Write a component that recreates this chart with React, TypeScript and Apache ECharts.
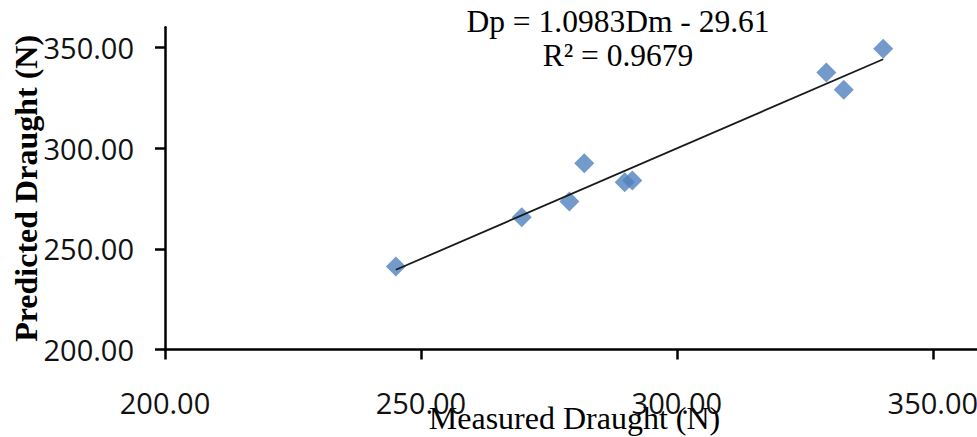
import React, { useEffect, useRef } from "react";
import * as echarts from "echarts";

// Measured (x) and predicted (y) draught values
const measured = [245.1, 269.7, 279.0, 281.9, 289.8, 291.3, 329.2, 332.6, 340.3];
const predicted = [241.2, 265.7, 273.5, 292.5, 283.1, 283.9, 337.6, 329.0, 349.4];

// Trend line: Dp = slope * Dm + intercept
const slope = 1.0983;
const intercept = -29.61;
const equationText = "Dp = 1.0983Dm - 29.61";
const r2Text = "R² = 0.9679";

const xTicks = [200, 250, 300, 350];
const yTicks = [200, 250, 300, 350];

export default function App() {
  const ref = useRef<HTMLDivElement>(null);

  useEffect(() => {
    if (!ref.current) return;
    const chart = echarts.init(ref.current, null, { renderer: "svg" });

    const points = measured.map((x, i) => [x, predicted[i]]);
    const xMin = Math.min(...measured);
    const xMax = Math.max(...measured);
    const trend = [
      [xMin, slope * xMin + intercept],
      [xMax, slope * xMax + intercept],
    ];

    const labelStyle = {
      fontFamily: "Open Sans",
      fontSize: 29,
      color: "#111",
      formatter: (v: number) => v.toFixed(2),
    };

    chart.setOption({
      animation: false,
      backgroundColor: "#fff",
      grid: {
        left: 165,
        top: 27.3,
        width: 819,
        height: 322.2,
        containLabel: false,
        outerBoundsMode: "none",
      },
      xAxis: {
        type: "value",
        min: 200,
        max: 360,
        interval: 50,
        axisLine: { show: true, onZero: false, lineStyle: { color: "#000", width: 2.5 } },
        axisTick: { show: true, length: 10, customValues: xTicks, lineStyle: { color: "#000", width: 2.5 } },
        axisLabel: { ...labelStyle, customValues: xTicks, margin: 38 },
        splitLine: { show: false },
        name: "Measured Draught (N)",
        nameLocation: "middle",
        nameGap: 52,
        nameMoveOverlap: false,
        nameTextStyle: { fontFamily: "Liberation Serif", fontSize: 32, color: "#000" },
      },
      yAxis: {
        type: "value",
        min: 200,
        max: 360,
        interval: 50,
        axisLine: { show: true, onZero: false, lineStyle: { color: "#000", width: 2.5 } },
        axisTick: { show: true, length: 10, customValues: yTicks, lineStyle: { color: "#000", width: 2.5 } },
        axisLabel: { ...labelStyle, customValues: yTicks, margin: 31 },
        splitLine: { show: false },
        name: "Predicted Draught (N)",
        nameLocation: "middle",
        nameGap: 123,
        nameMoveOverlap: false,
        nameTextStyle: {
          fontFamily: "Liberation Serif",
          fontSize: 32,
          fontWeight: "bold",
          color: "#000",
        },
      },
      graphic: [
        {
          type: "text",
          x: 618,
          y: 21,
          style: {
            text: equationText,
            fontFamily: "Liberation Serif",
            fontSize: 31.5,
            lineHeight: 31,
            fill: "#000",
            align: "center",
            verticalAlign: "middle",
          },
        },
        {
          type: "text",
          x: 618,
          y: 55,
          style: {
            text: r2Text,
            fontFamily: "Liberation Serif",
            fontSize: 31.5,
            lineHeight: 31,
            fill: "#000",
            align: "center",
            verticalAlign: "middle",
          },
        },
      ],
      series: [
        {
          type: "scatter",
          data: points,
          symbol: "diamond",
          symbolSize: 20,
          itemStyle: { color: "#4F81BD" },
          z: 2,
        },
        {
          type: "line",
          data: trend,
          symbol: "none",
          lineStyle: { color: "#1a1a1a", width: 1.8 },
          z: 3,
        },
      ],
    });

    return () => chart.dispose();
  }, []);

  return (
    <div
      ref={ref}
      style={{ position: "fixed", left: 0, top: 0, width: 977, height: 437, background: "#fff" }}
    />
  );
}
